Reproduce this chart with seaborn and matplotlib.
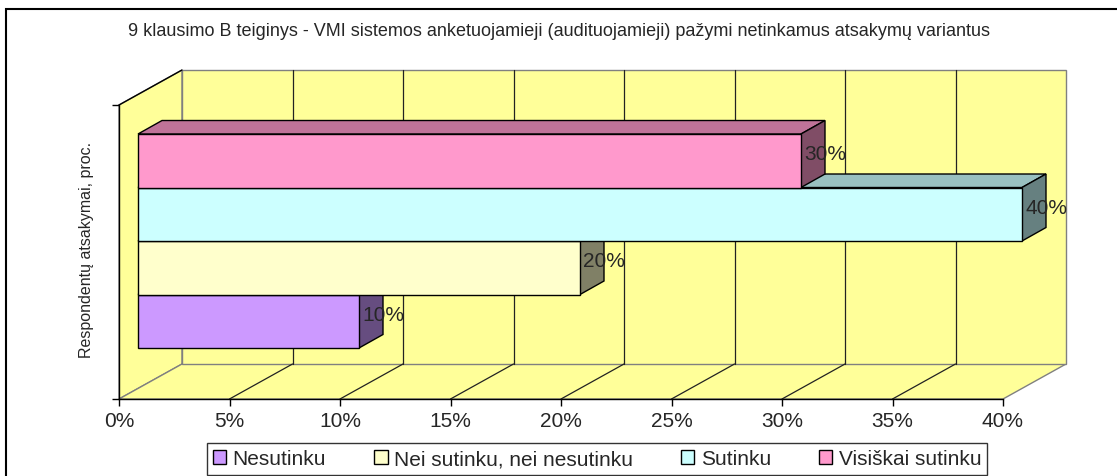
import matplotlib
matplotlib.use("Agg")
import matplotlib.pyplot as plt
import seaborn as sns
import pandas as pd
from matplotlib.patches import Polygon, Rectangle, Patch

# Chart data (top bar first, as drawn)
categories = ["Visiškai sutinku", "Sutinku", "Nei sutinku, nei nesutinku", "Nesutinku"]
values = [30, 40, 20, 10]
front_colors = ["#FF99CC", "#CCFFFF", "#FFFFCC", "#CC99FF"]
top_colors = ["#C07399", "#99C0C0", "#C0C099", "#9973C0"]
side_colors = ["#804D66", "#668080", "#808066", "#664D80"]
x_ticks = [0, 5, 10, 15, 20, 25, 30, 35, 40]
x_tick_labels = [f"{t}%" for t in x_ticks]
title = ("9 klausimo B teiginys - VMI sistemos anketuojamieji (audituojamieji) "
         "pažymi netinkamus atsakymų variantus")
ylabel = "Respondentų atsakymai, proc."

df = pd.DataFrame({"category": categories, "value": values})

sns.set_style("white")
plt.rcParams["font.family"] = ["Liberation Sans", "DejaVu Sans"]

W, H = 1117, 477
fig = plt.figure(figsize=(W / 100, H / 100), dpi=100)

# Front plane of the "box" (floor front edge, ticks)
ax_front = fig.add_axes([119 / W, 1 - 400 / H, 884 / W, 294 / H])
ax_front.set_xlim(0, 40)
ax_front.set_ylim(0, 1)
ax_front.set_facecolor("none")
wall_dx = 63 * 40 / 884
wall_dy = 35 / 294
wall = "#FFFF99"
edge_gray = "#808080"

# left wall, floor, back wall
left_wall = Polygon([(0, 0), (0, 1), (wall_dx, 1 + wall_dy), (wall_dx, wall_dy)],
                    closed=True, facecolor=wall, edgecolor=edge_gray, lw=1,
                    clip_on=False, zorder=0.5)
floor = Polygon([(0, 0), (40, 0), (40 + wall_dx, wall_dy), (wall_dx, wall_dy)],
                closed=True, facecolor=wall, edgecolor=edge_gray, lw=1,
                clip_on=False, zorder=0.5)
back_wall = Polygon([(wall_dx, wall_dy), (wall_dx, 1 + wall_dy),
                     (40 + wall_dx, 1 + wall_dy), (40 + wall_dx, wall_dy)],
                    closed=True, facecolor=wall, edgecolor=edge_gray, lw=1,
                    clip_on=False, zorder=0.5)
for p in (left_wall, floor, back_wall):
    ax_front.add_patch(p)
ax_front.plot([0, wall_dx], [1, 1 + wall_dy], color="black", lw=1, clip_on=False, zorder=0.8)
for t in x_ticks[1:-1]:
    ax_front.plot([t + wall_dx, t + wall_dx], [wall_dy, 1 + wall_dy], color="#222222",
                  lw=0.9, clip_on=False, zorder=0.8)
    ax_front.plot([t, t + wall_dx], [0, wall_dy], color="#222222", lw=0.9,
                  clip_on=False, zorder=0.8)

ax_front.set_xticks(x_ticks)
ax_front.set_xticklabels(x_tick_labels, fontsize=15)
ax_front.set_yticks([0, 1])
ax_front.set_yticklabels([])
ax_front.tick_params(axis="both", direction="out", length=5, width=1, color="black",
                     bottom=True, left=True, pad=4)
for side in ("top", "right"):
    ax_front.spines[side].set_visible(False)
for side in ("left", "bottom"):
    ax_front.spines[side].set_color("black")
    ax_front.spines[side].set_linewidth(1)
ax_front.set_ylabel(ylabel, fontsize=11.5)
ax_front.yaxis.set_label_coords(-25 / 884, 150 / 294)

# Bars in their own plane, a bit deeper than the floor front edge
ax = fig.add_axes([138 / W, 1 - 389.5 / H, 884 / W, 294.3 / H], zorder=2)
ax.set_facecolor("none")
sns.barplot(data=df, x="value", y="category", hue="category", order=categories,
            hue_order=categories, palette=front_colors, saturation=1, width=1.0,
            edgecolor="black", linewidth=1, legend=False, ax=ax)
ax.set_xlim(0, 40)
ax.set_ylim(4.257, -1.244)
ax.axis("off")

bar_dx = 24 * 40 / 884
bar_dy = 13.5 * 5.5 / 294.3

bars = [p for p in ax.patches if p.get_width() > 0]
bars.sort(key=lambda p: -p.get_y())  # bottom bar first
for rank, p in enumerate(bars):
    y0 = p.get_y()
    y1 = y0 + p.get_height()
    x1 = p.get_x() + p.get_width()
    x0 = p.get_x()
    idx = int(round(y0 + p.get_height() / 2))
    z = 3 + rank * 3
    top = Polygon([(x0, y0), (x0 + bar_dx, y0 - bar_dy), (x1 + bar_dx, y0 - bar_dy), (x1, y0)],
                  closed=True, facecolor=top_colors[idx], edgecolor="black", lw=1,
                  zorder=z, clip_on=False)
    side = Polygon([(x1, y0), (x1 + bar_dx, y0 - bar_dy), (x1 + bar_dx, y1 - bar_dy), (x1, y1)],
                   closed=True, facecolor=side_colors[idx], edgecolor="black", lw=1,
                   zorder=z + 1, clip_on=False)
    ax.add_patch(top)
    ax.add_patch(side)
    p.set_zorder(z + 2)
    p.set_clip_on(False)
    ax.annotate(f"{values[idx]}%", xy=(x1, (y0 + y1) / 2), xytext=(3, 7),
                textcoords="offset pixels", ha="left", va="center", fontsize=15,
                zorder=20, annotation_clip=False)

# Legend (Excel order: bottom bar first)
handles = [Patch(facecolor=front_colors[i], edgecolor="black", label=categories[i])
           for i in reversed(range(len(categories)))]
leg = fig.legend(handles=handles, ncol=4, loc="center",
                 bbox_to_anchor=(597 / W, 1 - 460 / H), fontsize=15,
                 frameon=True, fancybox=False, edgecolor="black",
                 handlelength=0.65, handleheight=0.65, handletextpad=0.3,
                 columnspacing=2.3, borderpad=0.3)
leg.get_frame().set_linewidth(1)

fig.text(0.5, 1 - 32 / H, title, ha="center", va="center", fontsize=13)

fig.patches.append(Rectangle((6 / W, -0.05), 1.1, (H - 10) / H + 0.05,
                             transform=fig.transFigure, fill=False,
                             edgecolor="black", lw=1.5))

fig.savefig("out.png", dpi=100)
